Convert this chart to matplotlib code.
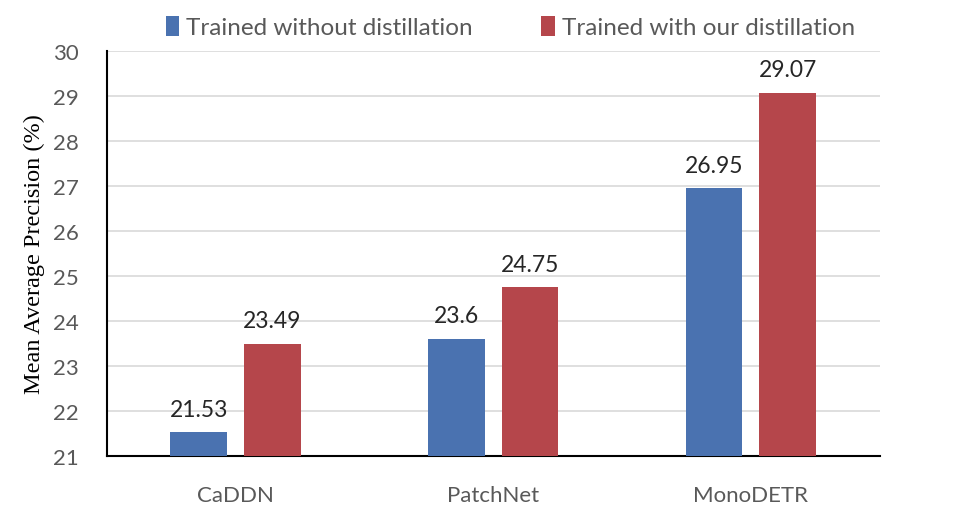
import numpy as np
import matplotlib
matplotlib.use("Agg")
import matplotlib.pyplot as plt

# Data
categories = ["CaDDN", "PatchNet", "MonoDETR"]
without_distill = [21.53, 23.6, 26.95]
with_distill = [23.49, 24.75, 29.07]
labels = ["Trained without distillation", "Trained with our distillation"]

blue = "#4A72B0"
red = "#B5464B"
grey = "#595959"

plt.rcParams['font.family'] = ['Lato', 'DejaVu Sans']

fig = plt.figure(figsize=(9.54, 5.06), dpi=100)
ax = fig.add_axes([0.112, 0.097, 0.81, 0.80])

x = np.arange(len(categories))
w = 0.22
off = 0.143
b1 = ax.bar(x - off, without_distill, w, color=blue, label=labels[0], zorder=3)
b2 = ax.bar(x + off, with_distill, w, color=red, label=labels[1], zorder=3)

for bars, vals in ((b1, without_distill), (b2, with_distill)):
    for b, v in zip(bars, vals):
        ax.annotate(f"{v:g}", (b.get_x() + b.get_width() / 2, v),
                    xytext=(0, 9), textcoords="offset points",
                    ha="center", va="bottom", fontsize=16.5, color="#262626")

ax.set_xlim(-0.5, 2.5)
ax.set_ylim(21, 30)
ax.set_yticks(range(21, 31))
ax.set_xticks(x)
ax.set_xticklabels(categories)
ax.tick_params(axis="both", length=0, labelsize=16, colors=grey)
ax.tick_params(axis="x", pad=21)
ax.tick_params(axis="y", pad=20)

ax.yaxis.grid(True, color="#D9D9D9", lw=1.2, zorder=0)
ax.set_axisbelow(True)
for s in ("top", "right"):
    ax.spines[s].set_visible(False)
ax.spines["left"].set_color("black")
ax.spines["left"].set_linewidth(1.5)
ax.spines["bottom"].set_color("black")
ax.spines["bottom"].set_linewidth(1.5)

ax.set_ylabel("Mean Average Precision (%)", family="Liberation Serif",
              fontsize=17.5, color="black", labelpad=6)

leg = fig.legend(loc="upper center", bbox_to_anchor=(0.535, 1.01), ncol=2,
                 frameon=False, fontsize=17.5, handlelength=0.55, handleheight=0.9,
                 handletextpad=0.3, columnspacing=2.8)
for t in leg.get_texts():
    t.set_color(grey)

fig.savefig("out.png", dpi=100)
